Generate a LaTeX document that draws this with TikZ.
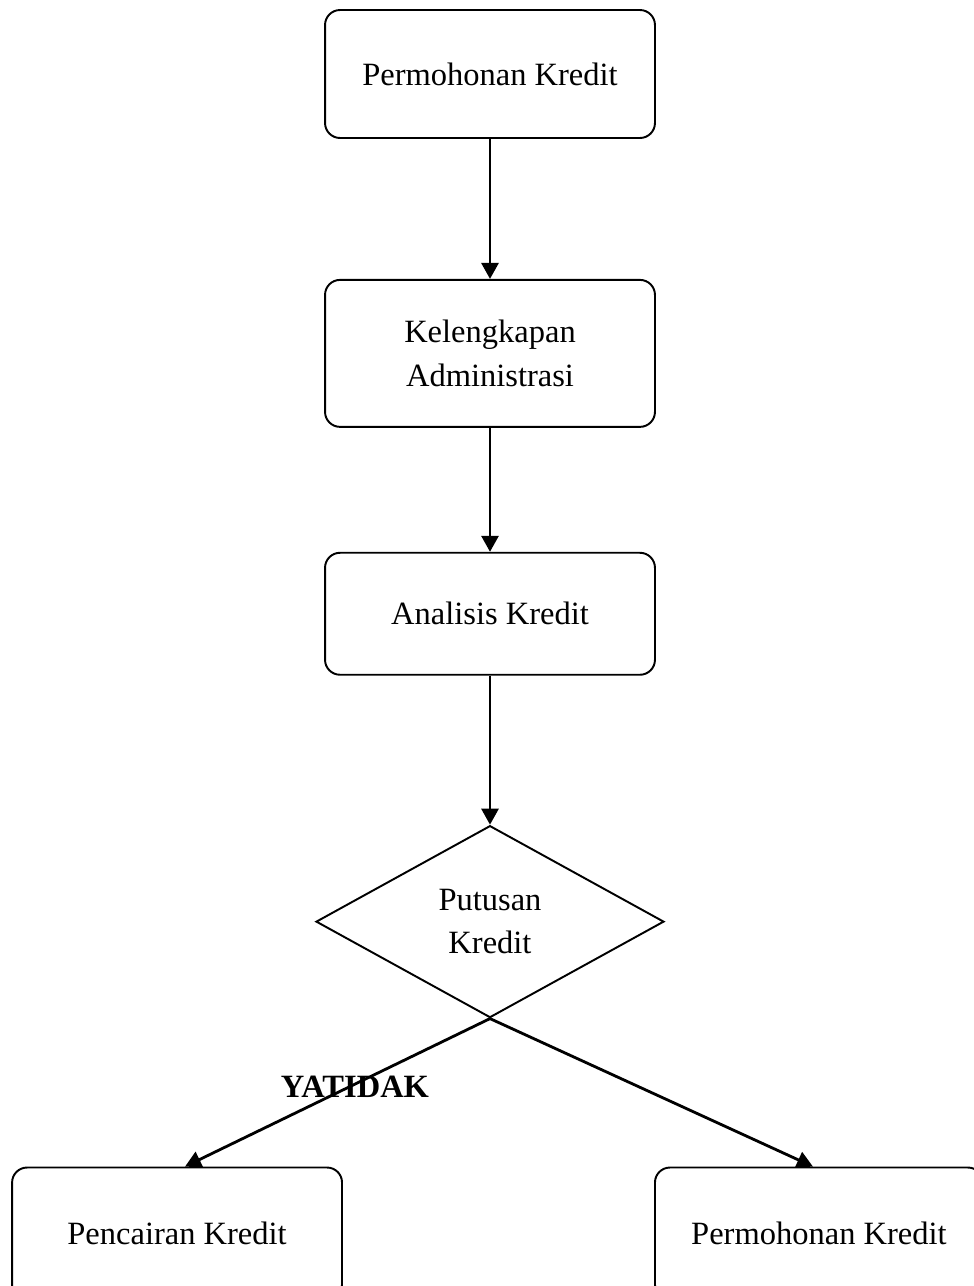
\documentclass[tikz,border=0pt]{standalone}
\usepackage{fontspec}
\setmainfont{Liberation Serif}
\usepackage{tikz}
\usetikzlibrary{positioning,shapes.geometric,arrows.meta}

\begin{document}
\begin{tikzpicture}[x=0.02cm, y=-0.02cm, >={Triangle[length=0.32cm,width=0.34cm]},
    font=\fontsize{18.5}{24.5}\selectfont,
    stepbox/.style={draw, line width=1.1pt, rounded corners=0.3cm, minimum width=6.6cm, align=center},
    decide/.style={diamond, draw, line width=1.1pt, minimum width=6.96cm, minimum height=3.84cm, inner sep=0pt, align=center},
    flow/.style={->, line width=1.6pt}]

      \clip (0,0) rectangle (974,1286);

      \node[stepbox, minimum height=2.56cm] (mohon) at (490,74) {Permohonan Kredit};
      \node[stepbox, minimum height=2.94cm] (admin) [below=2.8cm of mohon] {Kelengkapan\\Administrasi};
      \node[stepbox, minimum height=2.44cm] (analisis) [below=2.48cm of admin] {Analisis Kredit};
      \node[decide] (putus) [below=2.98cm of analisis] {Putusan\\Kredit};
      \node[stepbox, minimum height=2.64cm] (cair) [below=2.96cm of putus, xshift=-6.26cm] {Pencairan Kredit};
      \node[stepbox, minimum width=6.56cm, minimum height=2.64cm] (tolak) [below=2.96cm of putus, xshift=6.58cm] {Permohonan Kredit};

      \node[font=\fontsize{18.5}{24.5}\selectfont\bfseries] (label) at (355,1087) {YATIDAK};

      \draw[flow] (mohon) -- (admin);
      \draw[flow] (admin) -- (analisis);
      \draw[flow] (analisis) -- (putus);
      \draw[flow] (putus.south) -- ([xshift=0.16cm]cair.north);
      \draw[flow] (putus.south) -- ([xshift=-0.12cm]tolak.north);
    \end{tikzpicture}
\end{document}
